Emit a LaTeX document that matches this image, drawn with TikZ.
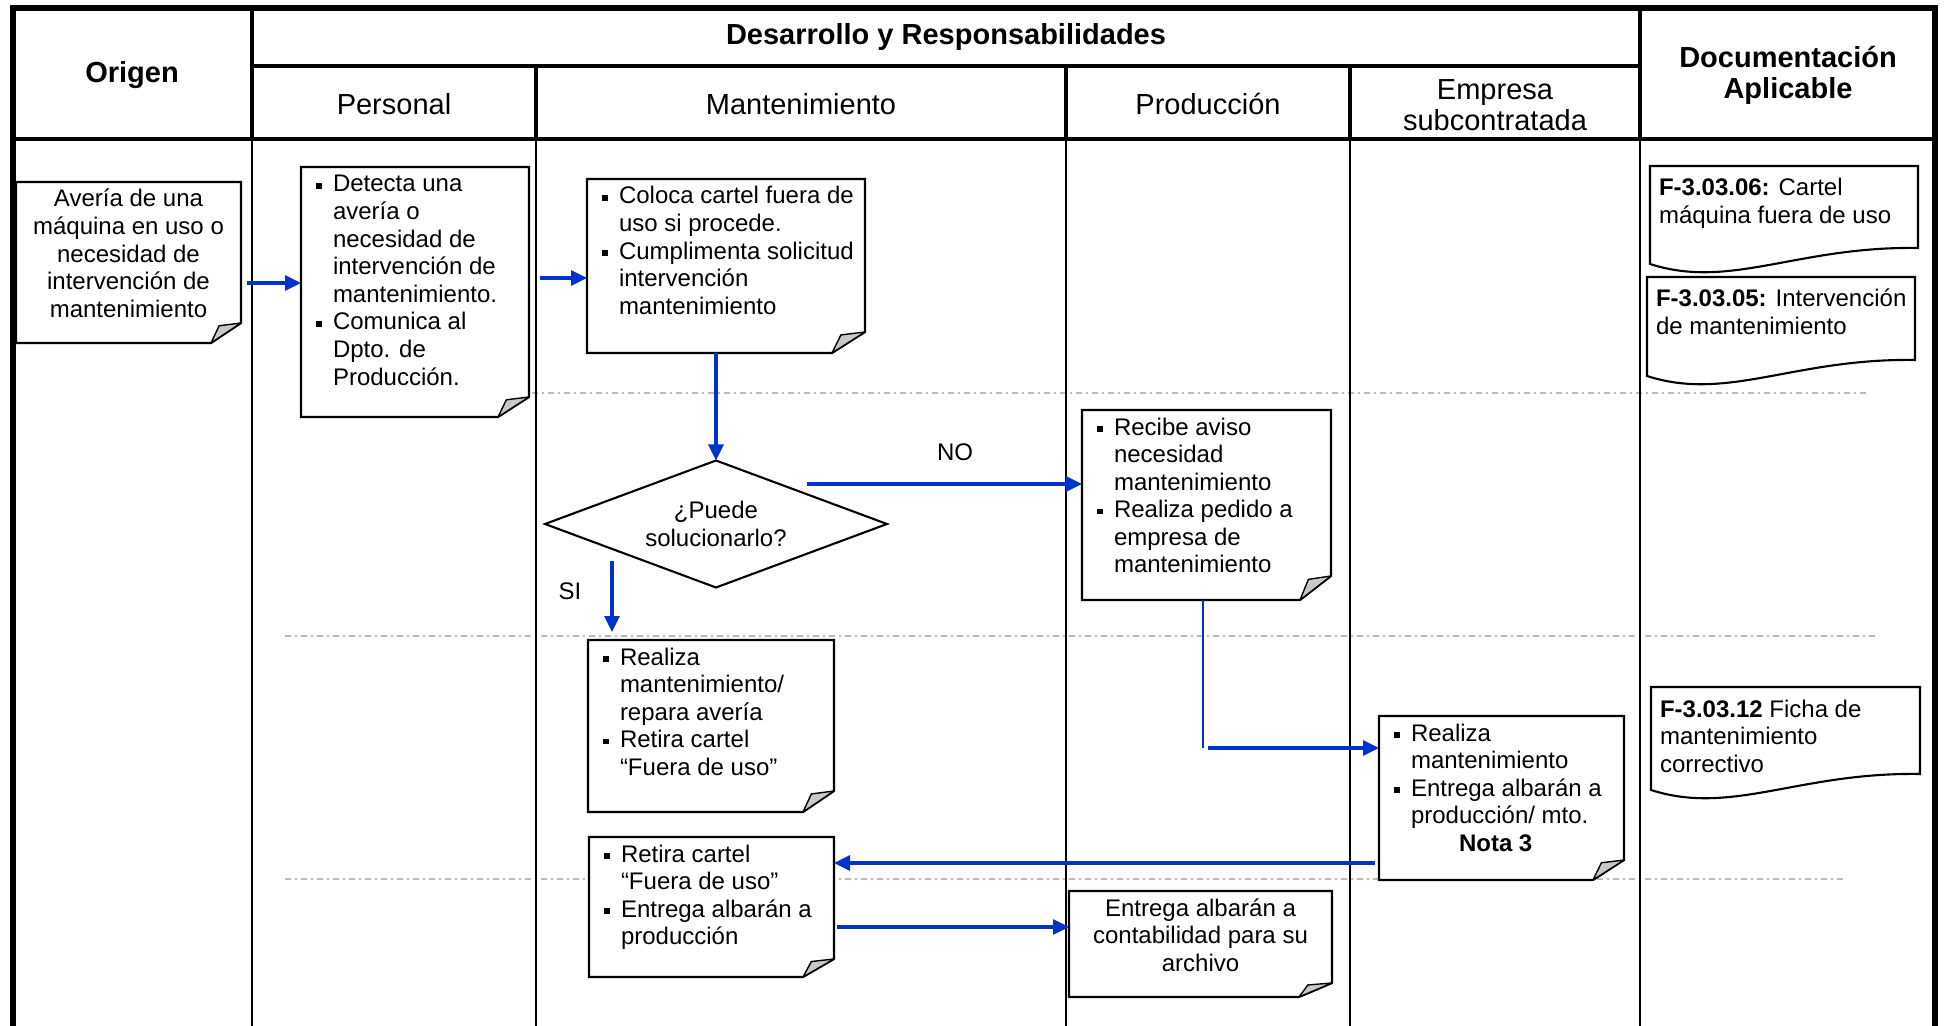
\documentclass[tikz,border=0pt]{standalone}
\usepackage{fontspec}
\setmainfont{Liberation Sans}
\usetikzlibrary{arrows.meta,calc}

\pgfdeclarelayer{grid}
\pgfdeclarelayer{shapes}
\pgfsetlayers{grid,shapes,main}

\definecolor{flowblue}{RGB}{0,51,204}
\definecolor{guidegray}{RGB}{185,185,185}
\definecolor{foldgray}{RGB}{200,200,200}

\newcommand\notefont{\fontsize{12pt}{13.8pt}\selectfont}
\newcommand\topstrut{\rule{0pt}{12.5pt}}
% bullet item with hanging indent
\newcommand\bul{\par\hangindent=8.5pt\hangafter=1\noindent\makebox[8.5pt][l]{\rule[1.7pt]{2.9pt}{2.9pt}}}

% folded-corner outline of a note node
\newcommand\foldcorner[3]{%
  \begin{pgfonlayer}{shapes}
    \filldraw[noteline] (#1.north west) -- (#1.north east) -- ($(#1.south east)+(0,-#3)$)
      -- ($(#1.south east)+(-#2,0)$) -- (#1.south west) -- cycle;
    \filldraw[foldline] ($(#1.south east)+(0,-#3)$) -- ($(#1.south east)+({-0.73*#2},{-0.86*#3})$)
      -- ($(#1.south east)+(-#2,0)$) -- cycle;
  \end{pgfonlayer}}

% note with bulleted (left aligned) text: name, left, top, right, bottom, text
\newcommand\mknote[6]{%
  \pgfmathsetmacro\nw{(#4-#2)/2}\pgfmathsetmacro\nh{(#5-#3)/2}%
  \node[notenode] (#1) at (#2,#3) {\begin{minipage}[c][\nh pt][t]{\nw pt}\notefont
      \leftskip=7.5pt\rightskip=0pt plus 1fil\parindent=0pt\relax #6\end{minipage}};}

% note with centred text
\newcommand\mknotec[6]{%
  \pgfmathsetmacro\nw{(#4-#2)/2}\pgfmathsetmacro\nh{(#5-#3)/2}%
  \node[notenode] (#1) at (#2,#3) {\begin{minipage}[c][\nh pt][t]{\nw pt}\notefont
      \centering\topstrut #6\end{minipage}};}

% document shape with wavy bottom edge
\newcommand\mkdoc[6]{%
  \pgfmathsetmacro\nw{(#4-#2)/2}\pgfmathsetmacro\nh{(#5-#3)/2}\pgfmathsetmacro\dw{#4-#2}%
  \node[notenode] (#1) at (#2,#3) {\begin{minipage}[c][\nh pt][t]{\nw pt}\notefont
      \leftskip=4.5pt\rightskip=0pt plus 1fil\parindent=0pt\relax\rule{0pt}{15pt}#6\end{minipage}};
  \begin{pgfonlayer}{shapes}
    \filldraw[noteline] (#1.south west) -- (#1.north west) -- (#1.north east) -- ($(#1.south east)+(0,-16)$)
      .. controls +({-0.45*\dw},-2) and +({0.3*\dw},26) .. (#1.south west) -- cycle;
  \end{pgfonlayer}}

\begin{document}
\begin{tikzpicture}[x=0.5pt, y=-0.5pt,
  notenode/.style={inner sep=0pt, outer sep=0pt, anchor=north west},
  noteline/.style={draw=black, line width=1.05pt, fill=white},
  foldline/.style={draw=black, line width=0.7pt, fill=foldgray, line join=round},
  arr/.style={draw=flowblue, line width=1.6pt, -{Triangle[length=8pt,width=7.5pt]}},
  thinflow/.style={draw=flowblue, line width=1pt},
  guideline/.style={draw=guidegray, line width=0.7pt, dash pattern=on 3pt off 2pt on 1pt off 2pt},
  frame/.style={line width=2.9pt},
  hdrline/.style={line width=2.4pt},
  colline/.style={line width=1pt},
  hdr/.style={font=\fontsize{14.5pt}{15.5pt}\selectfont\bfseries, align=center},
  subhdr/.style={font=\fontsize{14.5pt}{15.5pt}\selectfont, align=center},
  lbl/.style={font=\notefont},
  dectext/.style={inner sep=0pt, outer sep=0pt, minimum width=171pt, minimum height=63.5pt,
    align=center, font=\notefont}]
\useasboundingbox (0,0) rectangle (1944,1026);

% table grid and stage separators
\begin{pgfonlayer}{grid}
  \draw[guideline] (500,393) -- (1867,393);
  \draw[guideline] (285,636) -- (1878,636);
  \draw[guideline] (285,879) -- (1845,879);
  \foreach \cx in {252,536,1066,1350,1640} \draw[colline] (\cx,139) -- (\cx,1026);
  \draw[hdrline] (252,66) -- (1640,66);
  \draw[hdrline] (13,139) -- (1935,139);
  \draw[hdrline] (252,8) -- (252,139);
  \draw[hdrline] (1640,8) -- (1640,139);
  \foreach \cx in {536,1066,1350} \draw[hdrline] (\cx,66) -- (\cx,139);
  \draw[frame] (13,1026) -- (13,8) -- (1935,8) -- (1935,1026);
\end{pgfonlayer}

% column headings
\node[hdr] (hOrig) at (132,75) {Origen};
\node[hdr] (hDev) at (946,37) {Desarrollo y Responsabilidades};
\node[subhdr] (hPers) at (394,104) {Personal};
\node[subhdr] (hMant) at (801,104) {Mantenimiento};
\node[subhdr] (hProd) at (1208,104) {Producción};
\node[subhdr] (hEmp) at (1495,105) {Empresa\\subcontratada};
\node[hdr] (hDoc) at (1788,75) {Documentación\\Aplicable};

% process notes
\mknotec{orig}{16}{182}{241}{343}{Avería de una\\máquina en uso o\\necesidad de\\intervención de\\mantenimiento}
\foldcorner{orig}{30}{20}

\mknote{det}{301}{167}{529}{417}{\bul\topstrut Detecta una\\avería o\\necesidad de\\intervención de\\mantenimiento.
  \bul Comunica al\\Dpto. de\\Producción.}
\foldcorner{det}{31}{20}

\mknote{col}{587}{179}{865}{353}{\bul\topstrut Coloca cartel fuera de\\uso si procede.
  \bul Cumplimenta solicitud\\intervención\\mantenimiento}
\foldcorner{col}{33}{21}

\node[dectext] (dec) at (716,524) {¿Puede\\solucionarlo?};
\begin{pgfonlayer}{shapes}
  \filldraw[noteline] (dec.north) -- (dec.east) -- (dec.south) -- (dec.west) -- cycle;
\end{pgfonlayer}

\mknote{rec}{1082}{410}{1331}{600}{\bul\topstrut Recibe aviso\\necesidad\\mantenimiento
  \bul Realiza pedido a\\empresa de\\mantenimiento}
\foldcorner{rec}{31}{24}

\mknote{sirep}{588}{640}{834}{812}{\bul\topstrut Realiza\\mantenimiento/\\repara avería
  \bul Retira cartel\\“Fuera de uso”}
\foldcorner{sirep}{31}{21}

\mknote{ret}{589}{837}{834}{977}{\bul\topstrut Retira cartel\\“Fuera de uso”
  \bul Entrega albarán a\\producción}
\foldcorner{ret}{31}{18}

\mknote{emp}{1379}{716}{1624}{880}{\bul\topstrut Realiza\\mantenimiento
  \bul Entrega albarán a\\producción/ mto.\par\hspace*{32.5pt}\textbf{Nota 3}}
\foldcorner{emp}{31}{20}

\mknotec{con}{1069}{891}{1332}{997}{Entrega albarán a\\contabilidad para su\\archivo}
\foldcorner{con}{33}{14}

% applicable documents
\mkdoc{d06}{1650}{166}{1918}{264}{\textbf{F-3.03.06:} Cartel\\máquina fuera de uso}
\mkdoc{d05}{1647}{277}{1915}{376}{\textbf{F-3.03.05:} Intervención\\de mantenimiento}
\mkdoc{d12}{1651}{687}{1920}{790}{\textbf{F-3.03.12} Ficha de\\mantenimiento\\correctivo}

% flow connectors
\coordinate (yA) at (0,283);
\coordinate (yB) at (0,278);
\coordinate (noStart) at (807,484);
\coordinate (siStart) at (612,561);
\coordinate (recBend) at (1203,748);
\coordinate (yR) at (0,863);
\coordinate (yC) at (0,927);

\draw[arr] ($(orig.east |- yA)+(6,0)$) -- (det.west |- yA);
\draw[arr] ($(det.east |- yB)+(11,0)$) -- (col.west |- yB);
\draw[arr] (dec.north |- col.south) -- (dec.north);
\draw[arr] (noStart) -- (rec.west |- noStart);
\draw[arr] (siStart) -- ($(sirep.north -| siStart)+(0,-8)$);
\draw[thinflow] (rec.south -| recBend) -- (recBend);
\draw[arr] ($(recBend)+(5,0)$) -- (emp.west |- recBend);
\draw[arr] ($(emp.west |- yR)+(-4,0)$) -- (ret.east |- yR);
\draw[arr] ($(ret.east |- yC)+(3,0)$) -- (con.west |- yC);

\node[lbl] (noLbl) at (955,452) {NO};
\node[lbl] (siLbl) at (570,591) {SI};
\end{tikzpicture}
\end{document}
